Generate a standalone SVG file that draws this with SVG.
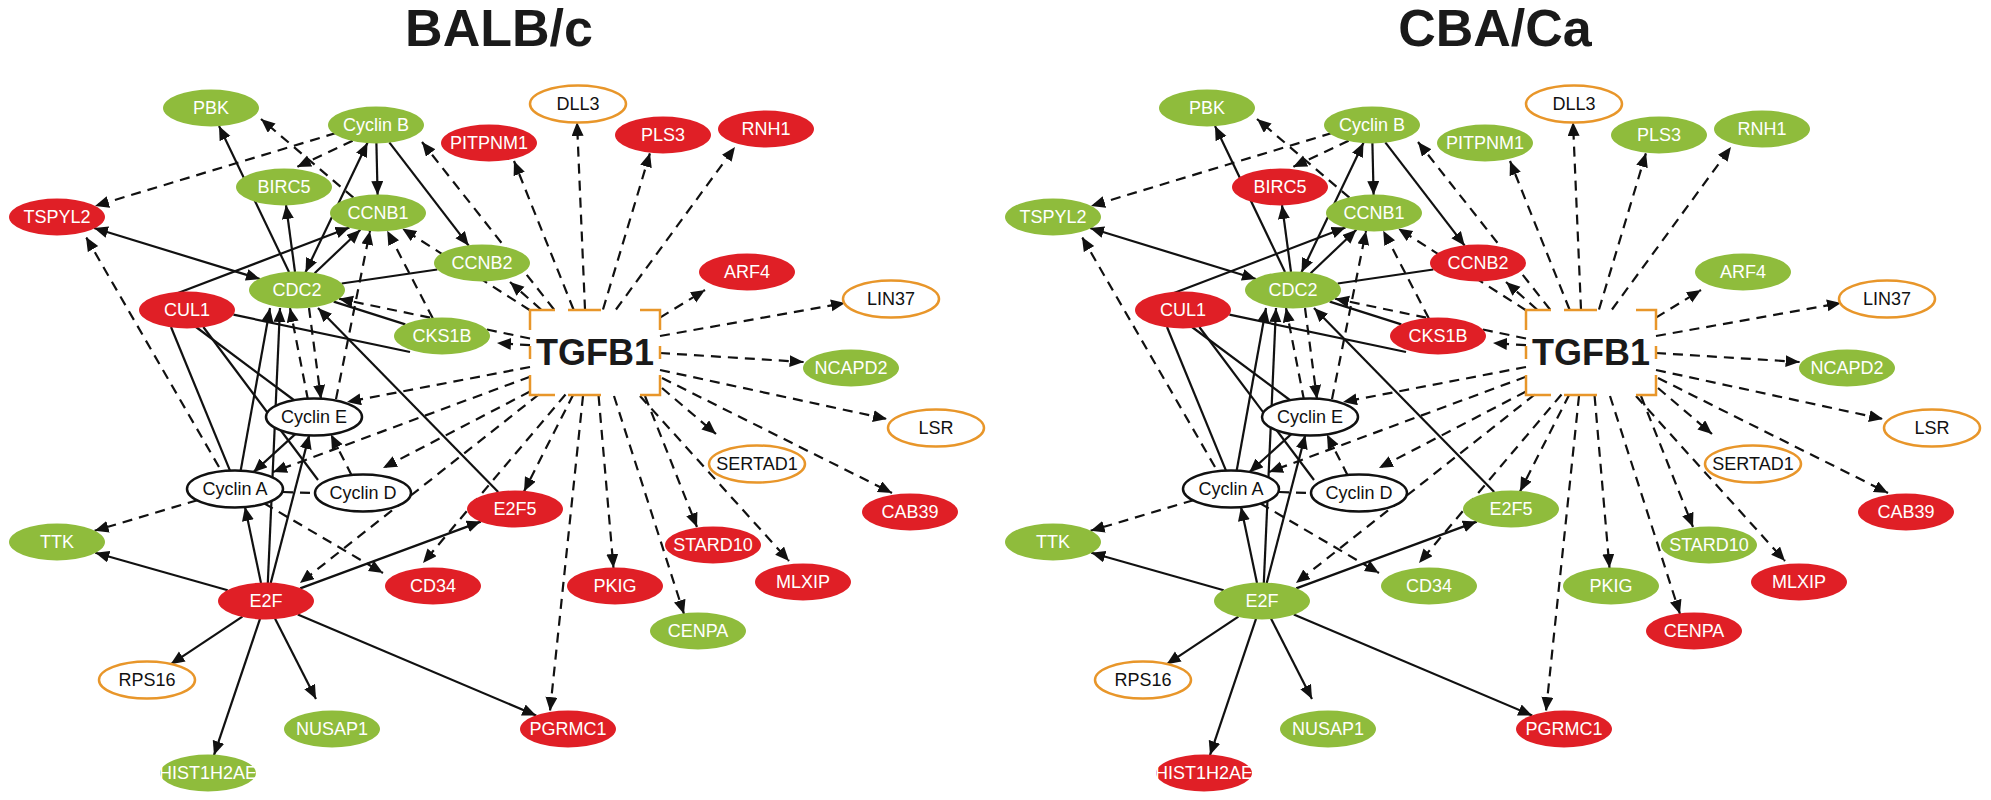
<svg xmlns="http://www.w3.org/2000/svg" xmlns:xlink="http://www.w3.org/1999/xlink" width="1991" height="800" viewBox="0 0 1991 800">
<style>
.g{fill:#8FBC3C}.r{fill:#E01F26}.o{fill:#fff;stroke:#E8962A;stroke-width:2.5}.w{fill:#fff;stroke:#111;stroke-width:2.5}
text{font-family:"Liberation Sans",Arial,sans-serif;font-size:18px;text-anchor:middle}
.lt{fill:#fff}.dt{fill:#111}
.title{font-size:52px;font-weight:bold;fill:#1a1a1a}
.tg{font-size:36px;font-weight:bold;fill:#1a1a1a}
.s{stroke:#111;stroke-width:2.2;fill:none}
.d{stroke:#111;stroke-width:2.2;fill:none;stroke-dasharray:10 7}
.a{marker-end:url(#ah)}.b{marker-start:url(#ah);marker-end:url(#ah)}
.box{fill:none;stroke:#E8962A;stroke-width:2.5}
</style>
<defs>
<marker id="ah" markerUnits="userSpaceOnUse" markerWidth="15" markerHeight="13" refX="14" refY="6" orient="auto-start-reverse"><path d="M0,0 L14,6 L0,12 z" fill="#111"/></marker>
</defs>
<text class="title" x="499" y="46">BALB/c</text>
<text class="title" x="1495" y="46">CBA/Ca</text>
<g id="edges">
<line class="s a" x1="289" y1="272" x2="219" y2="126"/>
<line class="s a" x1="295" y1="272" x2="286" y2="205"/>
<line class="s b" x1="260" y1="279" x2="94" y2="228"/>
<line class="s b" x1="305.5" y1="272.3" x2="367.5" y2="142.7"/>
<line class="s a" x1="178" y1="293" x2="349.5" y2="227.5"/>
<line class="s a" x1="314.6" y1="273.3" x2="360.4" y2="229.7"/>
<line class="s a" x1="376.4" y1="143" x2="377.6" y2="195"/>
<line class="s a" x1="389.3" y1="142.3" x2="468.7" y2="245.7"/>
<line class="s" x1="341.7" y1="283.5" x2="437.3" y2="269.5"/>
<line class="s" x1="333.7" y1="301.6" x2="405.3" y2="324.4"/>
<line class="s" x1="233.4" y1="314.7" x2="410" y2="352"/>
<line class="s" x1="171" y1="327" x2="230.2" y2="471.1"/>
<line class="s" x1="196" y1="327" x2="294.5" y2="400.5"/>
<line class="s" x1="203.3" y1="327" x2="318" y2="480"/>
<line class="s a" x1="240.6" y1="471" x2="270" y2="308"/>
<line class="s a" x1="267.8" y1="583" x2="280" y2="308"/>
<line class="s a" x1="270.7" y1="583.1" x2="309.3" y2="434.9"/>
<line class="s a" x1="295.8" y1="433.6" x2="253.2" y2="472.4"/>
<line class="s a" x1="498.2" y1="492.1" x2="318" y2="308"/>
<line class="s a" x1="261" y1="583.1" x2="245" y2="506.9"/>
<line class="s a" x1="227.7" y1="590.2" x2="95.3" y2="552.8"/>
<line class="s a" x1="242.4" y1="616.7" x2="170.6" y2="664.3"/>
<line class="s a" x1="260" y1="618.9" x2="214" y2="755.1"/>
<line class="s a" x1="275.1" y1="618.7" x2="316" y2="699"/>
<line class="s a" x1="297.8" y1="614.5" x2="536.2" y2="715.5"/>
<line class="s a" x1="300.2" y1="588.4" x2="480.8" y2="521.6"/>
<line class="d a" x1="336" y1="133" x2="95" y2="206"/>
<line class="d a" x1="352.6" y1="140.7" x2="297" y2="167"/>
<line class="d a" x1="353.4" y1="197.6" x2="261" y2="119"/>
<line class="d a" x1="554" y1="309.5" x2="422" y2="142"/>
<line class="d a" x1="530" y1="310.3" x2="402.2" y2="228.5"/>
<line class="d a" x1="432.8" y1="318.3" x2="387.2" y2="230.7"/>
<line class="d a" x1="336" y1="399.1" x2="370" y2="230.9"/>
<line class="d a" x1="530" y1="338.5" x2="339" y2="298.7"/>
<line class="d a" x1="530" y1="345.2" x2="497" y2="343"/>
<line class="d a" x1="309" y1="308" x2="321" y2="399"/>
<line class="d a" x1="308" y1="400" x2="290" y2="308"/>
<line class="d a" x1="219" y1="467" x2="86" y2="237"/>
<line class="d a" x1="530" y1="367" x2="347" y2="402"/>
<line class="d a" x1="530" y1="376.7" x2="273" y2="472"/>
<line class="d a" x1="351.7" y1="475.5" x2="331" y2="434.5"/>
<line class="d a" x1="530" y1="391.5" x2="383" y2="468"/>
<line class="d a" x1="197.4" y1="500.2" x2="94.6" y2="530.8"/>
<line class="d" x1="283" y1="492" x2="315" y2="493"/>
<line class="d a" x1="264.1" y1="503.3" x2="383" y2="573"/>
<line class="d a" x1="538.8" y1="394.5" x2="300" y2="583"/>
<line class="d a" x1="565.5" y1="394.5" x2="423" y2="563"/>
<line class="d a" x1="573.3" y1="394.5" x2="524" y2="491.4"/>
<line class="d a" x1="541" y1="309.5" x2="510" y2="282"/>
<line class="d a" x1="573.5" y1="309.5" x2="514" y2="161"/>
<line class="d a" x1="585" y1="309.5" x2="577" y2="122"/>
<line class="d a" x1="603" y1="309.5" x2="650" y2="153"/>
<line class="d a" x1="616" y1="309.5" x2="735" y2="147"/>
<line class="d a" x1="660" y1="317.6" x2="705" y2="290"/>
<line class="d a" x1="660" y1="336" x2="845" y2="303"/>
<line class="d a" x1="660" y1="353" x2="803.6" y2="362"/>
<line class="d a" x1="660" y1="370" x2="887" y2="419"/>
<line class="d a" x1="662" y1="388" x2="716" y2="434"/>
<line class="d a" x1="662" y1="378" x2="892" y2="493"/>
<line class="d a" x1="645" y1="396" x2="697" y2="527"/>
<line class="d a" x1="640" y1="396" x2="789" y2="561"/>
<line class="d a" x1="614" y1="396" x2="684" y2="614"/>
<line class="d a" x1="598.6" y1="396" x2="613.5" y2="568"/>
<line class="d a" x1="583" y1="396" x2="550" y2="711"/>
</g>
<use xlink:href="#edges" href="#edges" x="996" y="0"/>
<g id="L-TGFB1"><path class="box" d="M530,330 V310 H555 M568,310 H601 M640,310 H660 V330 M660,346 V359 M660,375 V395 H640 M601,395 H568 M555,395 H530 V375 M530,346 V359"/><text class="tg" x="595" y="365">TGFB1</text></g>
<g id="L-PBK"><ellipse class="g" cx="211" cy="108" rx="48" ry="18.5"/><text class="lt" x="211" y="114">PBK</text></g>
<g id="L-CyclinB"><ellipse class="g" cx="376" cy="125" rx="48" ry="18.5"/><text class="lt" x="376" y="131">Cyclin B</text></g>
<g id="L-PITPNM1"><ellipse class="r" cx="489" cy="143" rx="48" ry="18.5"/><text class="lt" x="489" y="149">PITPNM1</text></g>
<g id="L-DLL3"><ellipse class="o" cx="578" cy="104" rx="48" ry="18.5"/><text class="dt" x="578" y="110">DLL3</text></g>
<g id="L-PLS3"><ellipse class="r" cx="663" cy="135" rx="48" ry="18.5"/><text class="lt" x="663" y="141">PLS3</text></g>
<g id="L-RNH1"><ellipse class="r" cx="766" cy="129" rx="48" ry="18.5"/><text class="lt" x="766" y="135">RNH1</text></g>
<g id="L-BIRC5"><ellipse class="g" cx="284" cy="187" rx="48" ry="18.5"/><text class="lt" x="284" y="193">BIRC5</text></g>
<g id="L-CCNB1"><ellipse class="g" cx="378" cy="213" rx="48" ry="18.5"/><text class="lt" x="378" y="219">CCNB1</text></g>
<g id="L-TSPYL2"><ellipse class="r" cx="57" cy="217" rx="48" ry="18.5"/><text class="lt" x="57" y="223">TSPYL2</text></g>
<g id="L-CCNB2"><ellipse class="g" cx="482" cy="263" rx="48" ry="18.5"/><text class="lt" x="482" y="269">CCNB2</text></g>
<g id="L-ARF4"><ellipse class="r" cx="747" cy="272" rx="48" ry="18.5"/><text class="lt" x="747" y="278">ARF4</text></g>
<g id="L-CDC2"><ellipse class="g" cx="297" cy="290" rx="48" ry="18.5"/><text class="lt" x="297" y="296">CDC2</text></g>
<g id="L-CUL1"><ellipse class="r" cx="187" cy="310" rx="48" ry="18.5"/><text class="lt" x="187" y="316">CUL1</text></g>
<g id="L-LIN37"><ellipse class="o" cx="891" cy="299" rx="48" ry="18.5"/><text class="dt" x="891" y="305">LIN37</text></g>
<g id="L-CKS1B"><ellipse class="g" cx="442" cy="336" rx="48" ry="18.5"/><text class="lt" x="442" y="342">CKS1B</text></g>
<g id="L-NCAPD2"><ellipse class="g" cx="851" cy="368" rx="48" ry="18.5"/><text class="lt" x="851" y="374">NCAPD2</text></g>
<g id="L-CyclinE"><ellipse class="w" cx="314" cy="417" rx="48" ry="18.5"/><text class="dt" x="314" y="423">Cyclin E</text></g>
<g id="L-LSR"><ellipse class="o" cx="936" cy="428" rx="48" ry="18.5"/><text class="dt" x="936" y="434">LSR</text></g>
<g id="L-SERTAD1"><ellipse class="o" cx="757" cy="464" rx="48" ry="18.5"/><text class="dt" x="757" y="470">SERTAD1</text></g>
<g id="L-CyclinA"><ellipse class="w" cx="235" cy="489" rx="48" ry="18.5"/><text class="dt" x="235" y="495">Cyclin A</text></g>
<g id="L-CyclinD"><ellipse class="w" cx="363" cy="493" rx="48" ry="18.5"/><text class="dt" x="363" y="499">Cyclin D</text></g>
<g id="L-E2F5"><ellipse class="r" cx="515" cy="509" rx="48" ry="18.5"/><text class="lt" x="515" y="515">E2F5</text></g>
<g id="L-CAB39"><ellipse class="r" cx="910" cy="512" rx="48" ry="18.5"/><text class="lt" x="910" y="518">CAB39</text></g>
<g id="L-TTK"><ellipse class="g" cx="57" cy="542" rx="48" ry="18.5"/><text class="lt" x="57" y="548">TTK</text></g>
<g id="L-STARD10"><ellipse class="r" cx="713" cy="545" rx="48" ry="18.5"/><text class="lt" x="713" y="551">STARD10</text></g>
<g id="L-PKIG"><ellipse class="r" cx="615" cy="586" rx="48" ry="18.5"/><text class="lt" x="615" y="592">PKIG</text></g>
<g id="L-MLXIP"><ellipse class="r" cx="803" cy="582" rx="48" ry="18.5"/><text class="lt" x="803" y="588">MLXIP</text></g>
<g id="L-CD34"><ellipse class="r" cx="433" cy="586" rx="48" ry="18.5"/><text class="lt" x="433" y="592">CD34</text></g>
<g id="L-E2F"><ellipse class="r" cx="266" cy="601" rx="48" ry="18.5"/><text class="lt" x="266" y="607">E2F</text></g>
<g id="L-CENPA"><ellipse class="g" cx="698" cy="631" rx="48" ry="18.5"/><text class="lt" x="698" y="637">CENPA</text></g>
<g id="L-RPS16"><ellipse class="o" cx="147" cy="680" rx="48" ry="18.5"/><text class="dt" x="147" y="686">RPS16</text></g>
<g id="L-PGRMC1"><ellipse class="r" cx="568" cy="729" rx="48" ry="18.5"/><text class="lt" x="568" y="735">PGRMC1</text></g>
<g id="L-NUSAP1"><ellipse class="g" cx="332" cy="729" rx="48" ry="18.5"/><text class="lt" x="332" y="735">NUSAP1</text></g>
<g id="L-HIST1H2AE"><ellipse class="g" cx="208" cy="773" rx="48" ry="18.5"/><text class="lt" x="208" y="779">HIST1H2AE</text></g>
<g transform="translate(996,0)">
<g id="R-TGFB1"><path class="box" d="M530,330 V310 H555 M568,310 H601 M640,310 H660 V330 M660,346 V359 M660,375 V395 H640 M601,395 H568 M555,395 H530 V375 M530,346 V359"/><text class="tg" x="595" y="365">TGFB1</text></g>
<g id="R-PBK"><ellipse class="g" cx="211" cy="108" rx="48" ry="18.5"/><text class="lt" x="211" y="114">PBK</text></g>
<g id="R-CyclinB"><ellipse class="g" cx="376" cy="125" rx="48" ry="18.5"/><text class="lt" x="376" y="131">Cyclin B</text></g>
<g id="R-PITPNM1"><ellipse class="g" cx="489" cy="143" rx="48" ry="18.5"/><text class="lt" x="489" y="149">PITPNM1</text></g>
<g id="R-DLL3"><ellipse class="o" cx="578" cy="104" rx="48" ry="18.5"/><text class="dt" x="578" y="110">DLL3</text></g>
<g id="R-PLS3"><ellipse class="g" cx="663" cy="135" rx="48" ry="18.5"/><text class="lt" x="663" y="141">PLS3</text></g>
<g id="R-RNH1"><ellipse class="g" cx="766" cy="129" rx="48" ry="18.5"/><text class="lt" x="766" y="135">RNH1</text></g>
<g id="R-BIRC5"><ellipse class="r" cx="284" cy="187" rx="48" ry="18.5"/><text class="lt" x="284" y="193">BIRC5</text></g>
<g id="R-CCNB1"><ellipse class="g" cx="378" cy="213" rx="48" ry="18.5"/><text class="lt" x="378" y="219">CCNB1</text></g>
<g id="R-TSPYL2"><ellipse class="g" cx="57" cy="217" rx="48" ry="18.5"/><text class="lt" x="57" y="223">TSPYL2</text></g>
<g id="R-CCNB2"><ellipse class="r" cx="482" cy="263" rx="48" ry="18.5"/><text class="lt" x="482" y="269">CCNB2</text></g>
<g id="R-ARF4"><ellipse class="g" cx="747" cy="272" rx="48" ry="18.5"/><text class="lt" x="747" y="278">ARF4</text></g>
<g id="R-CDC2"><ellipse class="g" cx="297" cy="290" rx="48" ry="18.5"/><text class="lt" x="297" y="296">CDC2</text></g>
<g id="R-CUL1"><ellipse class="r" cx="187" cy="310" rx="48" ry="18.5"/><text class="lt" x="187" y="316">CUL1</text></g>
<g id="R-LIN37"><ellipse class="o" cx="891" cy="299" rx="48" ry="18.5"/><text class="dt" x="891" y="305">LIN37</text></g>
<g id="R-CKS1B"><ellipse class="r" cx="442" cy="336" rx="48" ry="18.5"/><text class="lt" x="442" y="342">CKS1B</text></g>
<g id="R-NCAPD2"><ellipse class="g" cx="851" cy="368" rx="48" ry="18.5"/><text class="lt" x="851" y="374">NCAPD2</text></g>
<g id="R-CyclinE"><ellipse class="w" cx="314" cy="417" rx="48" ry="18.5"/><text class="dt" x="314" y="423">Cyclin E</text></g>
<g id="R-LSR"><ellipse class="o" cx="936" cy="428" rx="48" ry="18.5"/><text class="dt" x="936" y="434">LSR</text></g>
<g id="R-SERTAD1"><ellipse class="o" cx="757" cy="464" rx="48" ry="18.5"/><text class="dt" x="757" y="470">SERTAD1</text></g>
<g id="R-CyclinA"><ellipse class="w" cx="235" cy="489" rx="48" ry="18.5"/><text class="dt" x="235" y="495">Cyclin A</text></g>
<g id="R-CyclinD"><ellipse class="w" cx="363" cy="493" rx="48" ry="18.5"/><text class="dt" x="363" y="499">Cyclin D</text></g>
<g id="R-E2F5"><ellipse class="g" cx="515" cy="509" rx="48" ry="18.5"/><text class="lt" x="515" y="515">E2F5</text></g>
<g id="R-CAB39"><ellipse class="r" cx="910" cy="512" rx="48" ry="18.5"/><text class="lt" x="910" y="518">CAB39</text></g>
<g id="R-TTK"><ellipse class="g" cx="57" cy="542" rx="48" ry="18.5"/><text class="lt" x="57" y="548">TTK</text></g>
<g id="R-STARD10"><ellipse class="g" cx="713" cy="545" rx="48" ry="18.5"/><text class="lt" x="713" y="551">STARD10</text></g>
<g id="R-PKIG"><ellipse class="g" cx="615" cy="586" rx="48" ry="18.5"/><text class="lt" x="615" y="592">PKIG</text></g>
<g id="R-MLXIP"><ellipse class="r" cx="803" cy="582" rx="48" ry="18.5"/><text class="lt" x="803" y="588">MLXIP</text></g>
<g id="R-CD34"><ellipse class="g" cx="433" cy="586" rx="48" ry="18.5"/><text class="lt" x="433" y="592">CD34</text></g>
<g id="R-E2F"><ellipse class="g" cx="266" cy="601" rx="48" ry="18.5"/><text class="lt" x="266" y="607">E2F</text></g>
<g id="R-CENPA"><ellipse class="r" cx="698" cy="631" rx="48" ry="18.5"/><text class="lt" x="698" y="637">CENPA</text></g>
<g id="R-RPS16"><ellipse class="o" cx="147" cy="680" rx="48" ry="18.5"/><text class="dt" x="147" y="686">RPS16</text></g>
<g id="R-PGRMC1"><ellipse class="r" cx="568" cy="729" rx="48" ry="18.5"/><text class="lt" x="568" y="735">PGRMC1</text></g>
<g id="R-NUSAP1"><ellipse class="g" cx="332" cy="729" rx="48" ry="18.5"/><text class="lt" x="332" y="735">NUSAP1</text></g>
<g id="R-HIST1H2AE"><ellipse class="r" cx="208" cy="773" rx="48" ry="18.5"/><text class="lt" x="208" y="779">HIST1H2AE</text></g>
</g>
</svg>
